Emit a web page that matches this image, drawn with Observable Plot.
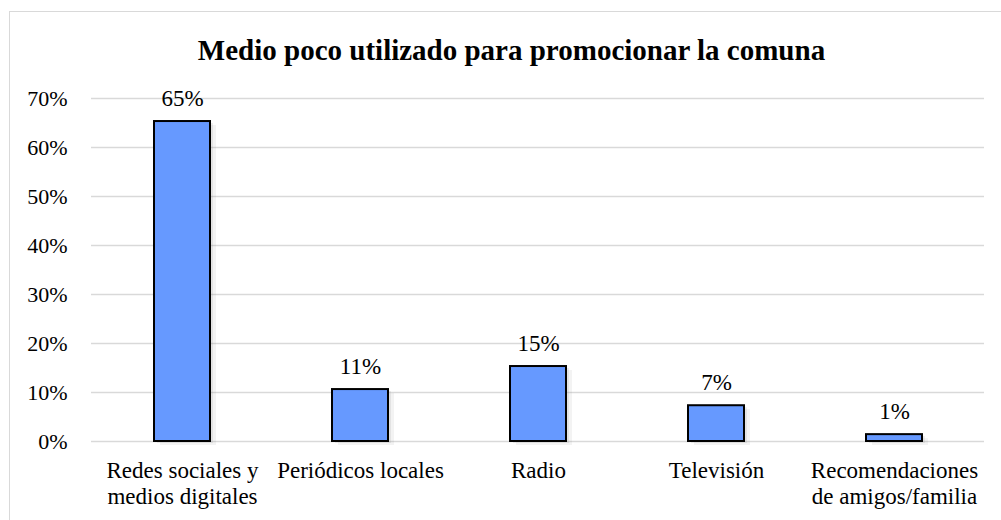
<!DOCTYPE html>
<html>
<head>
<meta charset="utf-8">
<script src="https://cdn.jsdelivr.net/npm/d3@7"></script>
<script src="https://cdn.jsdelivr.net/npm/@observablehq/plot@0.6"></script>
<style>
  html, body { margin: 0; padding: 0; background: #fff; }
  #wrap { position: relative; width: 1001px; height: 520px; overflow: hidden; font-family: "Liberation Serif", "Times New Roman", serif; }
  #frame { position: absolute; left: 9px; top: 11px; width: 1100px; height: 600px; border: 1.5px solid #d9d9d9; box-sizing: border-box; }
  #title { position: absolute; left: 0; width: 1023px; top: 32px; text-align: center; font-weight: bold; font-size: 29px; line-height: 36px; color: #000; }
  #chart { position: absolute; left: 0; top: 0; }
</style>
</head>
<body>
<div id="wrap">
  <div id="frame"></div>
  <div id="title">Medio poco utilizado para promocionar la comuna</div>
  <div id="chart"></div>
</div>
<script>
const categories = ["Redes sociales y\nmedios digitales", "Periódicos locales", "Radio", "Televisión", "Recomendaciones\nde amigos/familia"];
const values = [65.3, 10.6, 15.3, 7.3, 1.4];
const labels = ["65%", "11%", "15%", "7%", "1%"];
const yTicks = [0, 10, 20, 30, 40, 50, 60, 70];

const data = categories.map((c, i) => ({cat: c, value: values[i], label: labels[i]}));
const FONT = "Liberation Serif";

const chart = Plot.plot({
  width: 1001,
  height: 520,
  marginLeft: 91,
  marginRight: 17,
  marginTop: 98,
  marginBottom: 79,
  style: {fontFamily: FONT, fontSize: "22px", background: "transparent", color: "#000", overflow: "visible"},
  x: {domain: categories, paddingInner: 0.686, paddingOuter: 0.343, label: null},
  y: {domain: [0, 70], label: null},
  marks: [
    Plot.gridY(yTicks, {stroke: "#d9d9d9", strokeOpacity: 1, strokeWidth: 1.5}),
    Plot.axisY(yTicks, {tickSize: 0, tickPadding: 24, tickFormat: d => d + "%", fontSize: 22, fontFamily: FONT, label: null}),
    Plot.axisX({tickSize: 0, tickPadding: 19, fontSize: 23, fontFamily: FONT, lineAnchor: "top", label: null, lineHeight: 1.1}),
    Plot.barY(data, {x: "cat", y: "value", fill: "#888", fillOpacity: 0.14, dx: 3, dy: 2}),
    Plot.barY(data, {x: "cat", y: "value", fill: "#888", fillOpacity: 0.10, dx: 6, dy: 4}),
    Plot.barY(data, {x: "cat", y: "value", fill: "#6699ff", stroke: "#000", strokeWidth: 2}),
    Plot.text(data, {x: "cat", y: "value", text: "label", lineAnchor: "bottom", dy: -16, fontSize: 23, fontFamily: FONT, fill: "#000"})
  ]
});
document.getElementById("chart").appendChild(chart);
</script>
</body>
</html>
